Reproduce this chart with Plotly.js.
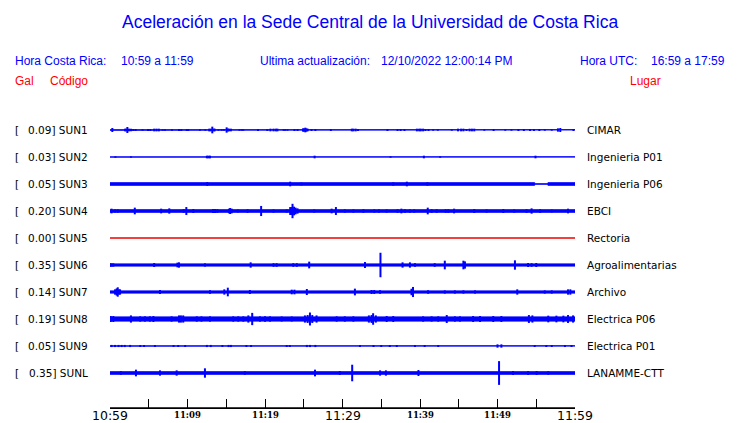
<!DOCTYPE html>
<html>
<head>
<meta charset="utf-8">
<script src="https://cdn.plot.ly/plotly-3.0.1.min.js"></script>
<style>html,body{margin:0;padding:0;background:#fff;}#chart{width:740px;height:423px;}</style>
</head>
<body>
<div id="chart"></div>
<script>
// ---------------- DATA ----------------
const stations = ["SUN1","SUN2","SUN3","SUN4","SUN5","SUN6","SUN7","SUN8","SUN9","SUNL"];
const peakGal  = ["0.09","0.03","0.05","0.20","0.00","0.35","0.14","0.19","0.05","0.35"];
const places   = ["CIMAR","Ingenieria P01","Ingenieria P06","EBCI","Rectoria","Agroalimentarias","Archivo","Electrica P06","Electrica P01","LANAMME-CTT"];
// background noise level (Gal) per station
const baseGal  = [0.006,0.003,0.035,0.035,0.0,0.03,0.03,0.058,0.003,0.035];
// SUN3 has a quiet stretch near the end (minutes after 10:59, Gal)
const sun3EnvT = [0,54.8,54.8,56.5,56.5,60];
const sun3EnvA = [0.035,0.035,0.004,0.004,0.035,0.035];

// peaks: minutes after 10:59 and amplitude in Gal
const sun1T = [0.3,1.94,2.1,2.24,2.45,2.71,3.0,3.3,4.2,4.9,5.2,5.7,6.0,6.3,6.8,7.1,8.0,8.9,9.2,9.9,10.1,11.6,12.3,12.8,13.0,13.2,13.4,13.5,14.0,14.4,14.7,15.05,15.2,15.35,15.6,16.7,17.0,17.2,19.1,20.3,20.7,21.1,21.4,21.6,22.4,22.6,22.9,23.8,24.2,24.9,25.05,25.2,25.35,25.5,26.0,26.5,28.5,31.2,31.4,31.7,32.0,35.8,37.1,37.5,38.0,39.6,39.9,40.1,40.4,40.7,41.1,41.7,42.3,44.1,44.9,45.3,45.6,46.0,46.4,46.7,47.0,48.3,49.5,51.0,51.8,52.7,53.4,54.2,54.7,55.4,56.1,57.0,57.8,58.1,59.8];
const sun1A = [0.056,0.037,0.037,0.083,0.037,0.037,0.028,0.028,0.02,0.028,0.028,0.037,0.037,0.037,0.02,0.02,0.02,0.028,0.028,0.028,0.028,0.02,0.02,0.037,0.037,0.093,0.037,0.037,0.02,0.02,0.02,0.074,0.04,0.037,0.037,0.02,0.02,0.02,0.028,0.028,0.037,0.037,0.037,0.037,0.02,0.02,0.02,0.028,0.028,0.046,0.046,0.065,0.046,0.037,0.028,0.028,0.028,0.037,0.037,0.037,0.028,0.028,0.028,0.028,0.028,0.037,0.037,0.037,0.037,0.028,0.028,0.02,0.02,0.02,0.037,0.037,0.037,0.028,0.037,0.037,0.037,0.02,0.028,0.02,0.02,0.028,0.028,0.028,0.028,0.028,0.02,0.02,0.046,0.056,0.028];

const sun2T = [0.7,2.7,12.5,12.7,12.9,26.4,36.2,40.5,42.6,54.9];
const sun2A = [0.02,0.02,0.037,0.037,0.037,0.037,0.02,0.037,0.02,0.037];

const sun3T = [12.55,23.25,24.7,36.55,38.3,40.95];
const sun3A = [0.056,0.065,0.04,0.046,0.065,0.046];

const sun4T = [0.2,0.65,1.0,3.2,6.6,7.65,9.5,9.85,10.75,13.3,13.55,13.85,15.35,15.5,15.7,16.5,17.75,19.5,21.1,22.8,23.25,23.45,23.55,23.75,23.95,24.2,26.35,28.6,29.15,30.3,31.4,32.7,34.1,34.7,35.7,37.1,37.6,38.05,38.7,39.25,41.0,41.5,42.15,43.3,43.65,44.4,47.0,48.6,50.75,52.15,53.75,54.4,55.5,57.0,59.1];
const sun4A = [0.065,0.045,0.045,0.093,0.065,0.074,0.05,0.11,0.056,0.056,0.056,0.05,0.065,0.083,0.065,0.04,0.05,0.14,0.045,0.045,0.11,0.11,0.20,0.12,0.093,0.074,0.045,0.065,0.11,0.045,0.045,0.05,0.045,0.045,0.045,0.05,0.065,0.05,0.045,0.045,0.093,0.05,0.05,0.05,0.05,0.065,0.056,0.045,0.056,0.045,0.05,0.074,0.05,0.04,0.065];

const sun5T = [];
const sun5A = [];

const sun6T = [0.0,0.2,0.43,5.7,8.7,8.9,12.25,18.15,21.1,21.5,23.65,24.1,25.7,32.9,34.9,37.75,38.7,39.35,41.9,43.2,45.6,45.8,52.25,53.95,54.4,55.0];
const sun6A = [0.046,0.046,0.046,0.056,0.065,0.074,0.045,0.074,0.05,0.05,0.05,0.05,0.093,0.083,0.34,0.074,0.074,0.05,0.05,0.12,0.12,0.10,0.13,0.056,0.05,0.056];

const sun7T = [0.65,0.86,1.0,1.15,1.3,6.45,12.9,14.75,15.2,18.05,23.45,23.8,25.4,31.6,33.75,34.1,34.85,38.9,39.1,41.05,43.2,44.5,45.6,47.1,52.55,56.1,57.0,59.1,59.4];
const sun7A = [0.074,0.10,0.13,0.074,0.074,0.056,0.05,0.074,0.12,0.056,0.065,0.065,0.083,0.093,0.056,0.056,0.05,0.09,0.14,0.05,0.045,0.045,0.045,0.045,0.074,0.045,0.045,0.074,0.074];

const sun8T = [0.1,0.43,2.7,3.9,4.5,5.15,5.6,7.95,8.9,9.15,9.45,11.2,11.8,12.9,15.9,16.55,17.2,17.85,18.35,19.35,20.0,20.65,22.15,23.45,25.15,25.5,25.8,26.1,26.65,29.25,30.3,31.4,33.4,33.75,33.95,34.3,35.7,36.55,40.4,41.5,42.35,43.45,44.5,45.15,46.85,47.75,49.45,50.5,54.05,54.5,56.55,57.6,58.5,59.1,59.75];
const sun8A = [0.083,0.083,0.10,0.074,0.074,0.074,0.083,0.074,0.10,0.10,0.10,0.074,0.074,0.074,0.074,0.074,0.074,0.10,0.17,0.074,0.074,0.074,0.07,0.07,0.10,0.11,0.18,0.11,0.10,0.074,0.074,0.074,0.10,0.11,0.16,0.10,0.083,0.083,0.074,0.074,0.074,0.11,0.074,0.074,0.083,0.083,0.083,0.083,0.11,0.10,0.093,0.093,0.093,0.11,0.10];

const sun9T = [0.2,0.65,1.1,1.5,1.9,2.6,3.9,4.4,5.8,8.2,8.8,9.7,12.5,13.0,14.5,15.3,15.6,17.6,18.2,22.8,23.2,25.4,25.8,26.5,32.25,34.0,35.0,36.1,37.0,39.35,40.6,42.35,50.0,50.5,54.8,56.3,57.0,58.7,59.55];
const sun9A = [0.03,0.03,0.03,0.03,0.03,0.03,0.028,0.028,0.028,0.028,0.028,0.028,0.03,0.03,0.028,0.03,0.03,0.028,0.028,0.028,0.028,0.03,0.03,0.03,0.028,0.028,0.028,0.028,0.028,0.028,0.028,0.028,0.046,0.046,0.028,0.028,0.028,0.028,0.028];

const sunLT = [1.4,3.35,6.45,8.6,12.25,17.4,26.45,29.65,31.25,34.85,35.6,39.8,50.2,52.0,53.95,55.05,56.55];
const sunLA = [0.05,0.093,0.074,0.074,0.13,0.05,0.093,0.056,0.23,0.074,0.074,0.083,0.33,0.056,0.056,0.056,0.05];

const tickMinutes = [0,5,10,15,20,25,30,35,40,45,50,55,60];
const labelMinutes = [0,10,20,30,40,50,60];
const labelText = ["10:59","11:09","11:19","11:29","11:39","11:49","11:59"];

const spikeT = [sun1T,sun2T,sun3T,sun4T,sun5T,sun6T,sun7T,sun8T,sun9T,sunLT];
const spikeA = [sun1A,sun2A,sun3A,sun4A,sun5A,sun6A,sun7A,sun8A,sun9A,sunLA];

// ---------------- DRAWING ----------------
const BLUE = '#0000ff', RED = '#ee0000';
const GAL2ROW = 36/27;  // vertical scale: Gal -> row units
const PLOT_L = 110, PLOT_R = 575, PLOT_T = 100, PLOT_B = 408;
const ROW_PX = 27, FIRST_ROW_PX = 130;
const px = p => (p - PLOT_L) / (PLOT_R - PLOT_L);
const py = p => (PLOT_B - p) / (PLOT_B - PLOT_T);
const yTop = (FIRST_ROW_PX - PLOT_T) / ROW_PX;
const yBot = yTop - (PLOT_B - PLOT_T) / ROW_PX;

const traces = [];
stations.forEach((s, i) => {
  const row = -i;
  const col = (s === 'SUN5') ? RED : BLUE;
  const envT = (s === 'SUN3') ? sun3EnvT : [0, 60];
  const envA = (s === 'SUN3') ? sun3EnvA : [baseGal[i], baseGal[i]];
  const bx = [], by = [];
  envT.forEach((t, k) => { bx.push(t); by.push(row + envA[k] * GAL2ROW); });
  for (let k = envT.length - 1; k >= 0; k--) { bx.push(envT[k]); by.push(row - envA[k] * GAL2ROW); }
  traces.push({type:'scatter', mode:'lines', x:bx, y:by, fill:'toself', fillcolor:col,
               line:{color:col, width:1}, hoverinfo:'skip', showlegend:false, cliponaxis:false});
  const sx = [], sy = [];
  spikeT[i].forEach((t, k) => {
    const a = spikeA[i][k] * GAL2ROW;
    sx.push(t, t, null); sy.push(row - a, row + a, null);
  });
  if (sx.length) traces.push({type:'scatter', mode:'lines', x:sx, y:sy,
               line:{color:col, width:2}, hoverinfo:'skip', showlegend:false});
});

const ann = [];
const A = (o) => Object.assign({showarrow:false, borderpad:0, borderwidth:0}, o);
const labFont = {family:'DejaVu Sans', size:10.5, color:'#000'};
stations.forEach((s, i) => {
  ann.push(A({xref:'paper', yref:'y', x:px(15), y:-i, xanchor:'left', yanchor:'middle', text:'[', font:labFont}));
  ann.push(A({xref:'paper', yref:'y', x:px(88), y:-i, xanchor:'right', yanchor:'middle', text:peakGal[i] + '] ' + s, font:labFont}));
  ann.push(A({xref:'paper', yref:'y', x:px(587), y:-i, xanchor:'left', yanchor:'middle', text:places[i], font:labFont}));
});
// header
const hFont = {family:'Liberation Sans, Arial', size:12, color:BLUE};
const rFont = {family:'Liberation Sans, Arial', size:12, color:'#ff0000'};
ann.push(A({xref:'paper', yref:'paper', x:px(370), y:py(22), xanchor:'center', yanchor:'middle',
  text:'Aceleración en la Sede Central de la Universidad de Costa Rica', font:{family:'Liberation Sans, Arial', size:17.5, color:BLUE}}));
ann.push(A({xref:'paper', yref:'paper', x:px(15), y:py(61), xanchor:'left', yanchor:'middle', text:'Hora Costa Rica:', font:hFont}));
ann.push(A({xref:'paper', yref:'paper', x:px(120.5), y:py(61), xanchor:'left', yanchor:'middle', text:labelText[0] + ' a ' + labelText[6], font:hFont}));
ann.push(A({xref:'paper', yref:'paper', x:px(260), y:py(61), xanchor:'left', yanchor:'middle', text:'Ultima actualización:', font:hFont}));
ann.push(A({xref:'paper', yref:'paper', x:px(380.5), y:py(61), xanchor:'left', yanchor:'middle', text:'12/10/2022 12:00:14 PM', font:hFont}));
ann.push(A({xref:'paper', yref:'paper', x:px(580), y:py(61), xanchor:'left', yanchor:'middle', text:'Hora UTC:', font:hFont}));
ann.push(A({xref:'paper', yref:'paper', x:px(650.5), y:py(61), xanchor:'left', yanchor:'middle', text:'16:59 a 17:59', font:hFont}));
ann.push(A({xref:'paper', yref:'paper', x:px(15), y:py(81), xanchor:'left', yanchor:'middle', text:'Gal', font:rFont}));
ann.push(A({xref:'paper', yref:'paper', x:px(50), y:py(81), xanchor:'left', yanchor:'middle', text:'Código', font:rFont}));
ann.push(A({xref:'paper', yref:'paper', x:px(630), y:py(81), xanchor:'left', yanchor:'middle', text:'Lugar', font:rFont}));
// time axis labels
labelMinutes.forEach((m, k) => {
  const big = (k % 3 === 0);
  ann.push(A({xref:'x', yref:'paper', x:m, y:py(big ? 415.5 : 414.5), xanchor:'center', yanchor:'middle', text:labelText[k],
    font: big ? {family:'DejaVu Sans', size:12.5, color:'#000'} : {family:'DejaVu Serif', size:8.5, color:'#000', weight:'bold'}}));
});

const layout = {
  width:740, height:423,
  margin:{l:PLOT_L, r:740-PLOT_R, t:PLOT_T, b:423-PLOT_B, pad:0},
  paper_bgcolor:'#fff', plot_bgcolor:'#fff',
  showlegend:false, hovermode:false,
  xaxis:{range:[0,60], showgrid:false, zeroline:false, showline:true, linecolor:'#000', linewidth:1,
         tickmode:'array', tickvals:tickMinutes, ticks:'inside', ticklen:9, tickwidth:1, tickcolor:'#000',
         showticklabels:false, automargin:false, fixedrange:true},
  yaxis:{range:[yBot, yTop], visible:false, showgrid:false, zeroline:false, automargin:false, fixedrange:true},
  shapes:[{type:'line', xref:'paper', yref:'paper', x0:0, x1:1, y0:0, y1:0, line:{color:'#000', width:1.6}, layer:'above'}],
  annotations: ann
};
Plotly.newPlot('chart', traces, layout, {staticPlot:true, displayModeBar:false});
</script>
</body>
</html>
